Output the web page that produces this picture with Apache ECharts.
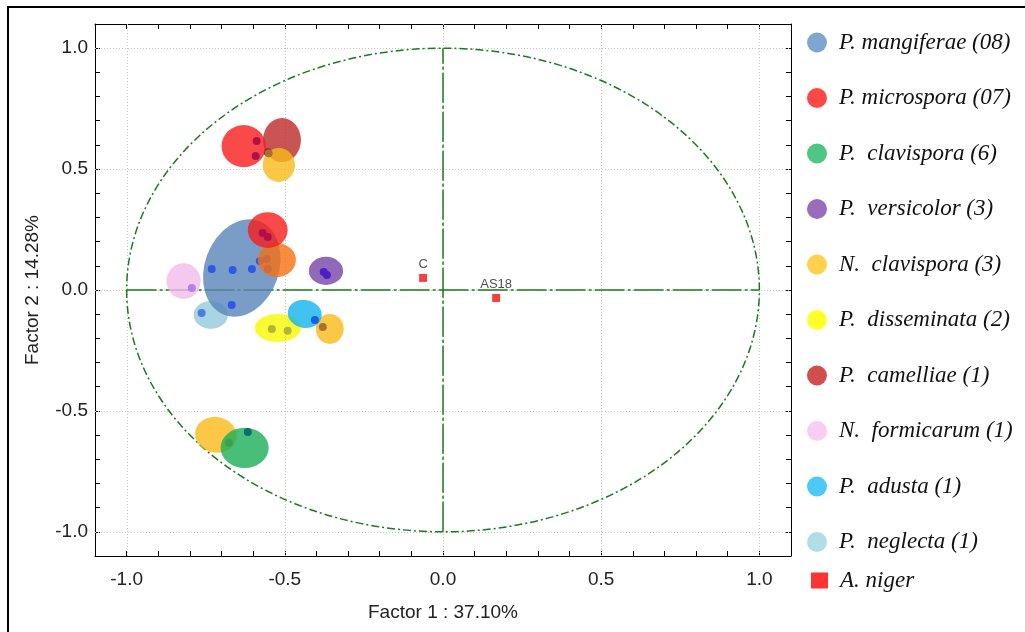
<!DOCTYPE html>
<html>
<head>
<meta charset="utf-8">
<script src="https://cdn.jsdelivr.net/npm/echarts@6/dist/echarts.min.js"></script>
<style>
html, body { margin: 0; padding: 0; background: #fff; }
#main { width: 1025px; height: 632px; }
</style>
</head>
<body>
<div id="main"></div>
<script>
// species names (legend order)
var speciesNames = ['P. mangiferae (08)', 'P. microspora (07)', 'P.  clavispora (6)', 'P.  versicolor (3)',
    'N.  clavispora (3)', 'P.  disseminata (2)', 'P.  camelliae (1)', 'N.  formicarum (1)',
    'P.  adusta (1)', 'P.  neglecta (1)', 'A. niger'];

// ellipses: [factor1, factor2, half width, half height, tilt in degrees]
var mangiferaeEll = [[-0.636, 0.091, 0.117, 0.207, 20]];
var microsporaEll = [[-0.630, 0.595, 0.070, 0.087, 0], [-0.554, 0.248, 0.063, 0.074, 0]];
var clavisporaEll = [[-0.627, -0.653, 0.076, 0.083, 0]];
var versicolorEll = [[-0.370, 0.079, 0.054, 0.058, 0]];
var nClavisporaEll = [[-0.519, 0.517, 0.051, 0.070, 0], [-0.358, -0.161, 0.044, 0.062, 0], [-0.718, -0.599, 0.066, 0.074, 10]];
var nClavisporaEll2 = [[-0.525, 0.124, 0.060, 0.070, 0]];
var disseminataEll = [[-0.522, -0.157, 0.073, 0.058, 0]];
var camelliaeEll = [[-0.509, 0.620, 0.060, 0.091, 0]];
var formicarumEll = [[-0.820, 0.037, 0.054, 0.074, 0]];
var adustaEll = [[-0.437, -0.099, 0.054, 0.058, 10]];
var neglectaEll = [[-0.734, -0.103, 0.054, 0.058, 0]];

// isolate points: [factor1, factor2]
var mangiferaePts = [[-0.731, 0.087], [-0.665, 0.083], [-0.604, 0.087], [-0.668, -0.062], [-0.579, 0.120], [-0.557, 0.128], [-0.554, 0.087]];
var microsporaPts = [[-0.589, 0.616], [-0.592, 0.554], [-0.570, 0.236], [-0.554, 0.219]];
var clavisporaPts = [[-0.617, -0.587]];
var versicolorPts = [[-0.377, 0.074], [-0.367, 0.062]];
var nClavisporaPts = [[-0.380, -0.153], [-0.677, -0.632], [-0.551, 0.566]];
var disseminataPts = [[-0.541, -0.161], [-0.491, -0.169]];
var camelliaePts = [[-0.554, 0.570]];
var formicarumPts = [[-0.794, 0.008]];
var adustaPts = [[-0.405, -0.124]];
var neglectaPts = [[-0.763, -0.095]];

// A. niger reference strains
var nigerNames = ['C', 'AS18'];
var nigerX = [-0.063, 0.168];
var nigerY = [0.050, -0.033];

// unit circle, centre lines, grid positions
var unitCircle = [[0, 0, 1, 1, 0]];
var hLine = [[-1, 0], [1, 0]];
var vLine = [[0, -1], [0, 1]];
var gridTicks = [-1, -0.5, 0, 0.5, 1];

var myChart = echarts.init(document.getElementById('main'));

function ellipsePath(rx, ry) {
    return 'M' + (-rx) + ' 0 A' + rx + ' ' + ry + ' 0 1 0 ' + rx + ' 0 A' + rx + ' ' + ry + ' 0 1 0 ' + (-rx) + ' 0 Z';
}

function ellipseRender(style) {
    return function (params, api) {
        var c = api.coord([api.value(0), api.value(1)]);
        var s = api.size([api.value(2), api.value(3)]);
        return {
            type: 'path',
            x: c[0],
            y: c[1],
            rotation: -api.value(4) * Math.PI / 180,
            shape: { pathData: ellipsePath(s[0], s[1]) },
            style: style
        };
    };
}

var zNext = 3;
function ellSeries(name, data, color) {
    return {
        name: name,
        type: 'custom',
        z: zNext++,
        data: data,
        itemStyle: { color: color },
        renderItem: ellipseRender({ fill: color, opacity: 0.8 }),
        silent: true
    };
}

function ptSeries(name, data, color) {
    return {
        name: name,
        type: 'scatter',
        z: zNext++,
        data: data,
        symbol: 'circle',
        symbolSize: 8,
        itemStyle: { color: color, opacity: 1 },
        silent: true
    };
}

function fmt(v) {
    var r = Math.round(v * 10) / 10;
    if (Math.abs(r * 2 - Math.round(r * 2)) > 1e-9) return '';
    if (r === 0) r = 0;
    return r.toFixed(1);
}

function axis(pos, main) {
    return {
        type: 'value',
        position: pos,
        min: -1.1,
        max: 1.1,
        interval: 0.1,
        axisLine: { show: true, onZero: false, lineStyle: { color: '#000', width: 1 } },
        axisTick: { show: true, inside: true, length: 5, lineStyle: { color: '#000' } },
        axisLabel: { show: main, formatter: fmt, color: '#222', fontSize: 19, fontFamily: 'Liberation Sans' },
        splitLine: { show: false }
    };
}

var xMain = axis('bottom', true);
xMain.name = 'Factor 1 : 37.10%';
xMain.nameLocation = 'middle';
xMain.nameGap = 47;
xMain.nameTextStyle = { color: '#222', fontSize: 19, fontFamily: 'Liberation Sans' };
xMain.axisLabel.margin = 14;

var yMain = axis('left', true);
yMain.name = 'Factor 2 : 14.28%';
yMain.nameLocation = 'middle';
yMain.nameGap = 53;
yMain.nameTextStyle = { color: '#222', fontSize: 19, fontFamily: 'Liberation Sans' };
yMain.axisLabel.margin = 7;

var legendColors = ['#80a6d0', '#fe4848', '#4ec880', '#9a6cbc', '#fed04c', '#ffff2a', '#d04e4e', '#f8cdf2', '#4cc9f6', '#b2dce6'];
var legendText = { fontFamily: 'Liberation Serif', fontStyle: 'italic', fontSize: 23, color: '#111', lineHeight: 20, padding: [0, 0, 0, 7] };

var greenLine = '#1b7b1b';

var option = {
    animation: false,
    backgroundColor: '#fff',
    grid: { left: 95, right: 234, top: 24, bottom: 76 },
    xAxis: [xMain, axis('top', false)],
    yAxis: [yMain, axis('right', false)],
    legend: [{
        orient: 'vertical',
        left: 807,
        top: 31,
        padding: 0,
        itemWidth: 20,
        itemHeight: 20,
        itemGap: 32.5,
        icon: 'circle',
        selectedMode: false,
        data: speciesNames.slice(0, 10).map(function (n, i) {
            return { name: n, itemStyle: { color: legendColors[i] } };
        }),
        textStyle: legendText
    }, {
        orient: 'vertical',
        left: 811,
        top: 569,
        padding: 0,
        itemWidth: 17,
        itemHeight: 16,
        icon: 'rect',
        selectedMode: false,
        data: [{ name: speciesNames[10], itemStyle: { color: '#ff0000' } }],
        textStyle: legendText
    }],
    graphic: [{
        type: 'rect',
        shape: { x: 8, y: 7, width: 1100, height: 700 },
        style: { fill: 'none', stroke: '#000', lineWidth: 2 },
        silent: true
    }],
    series: [
        {
            name: 'grid', type: 'custom', z: 1, silent: true,
            data: gridTicks.map(function (v) { return [v, v]; }),
            renderItem: function (params, api) {
                var v = api.value(0);
                var a = api.coord([v, -1.1]), b = api.coord([v, 1.1]);
                var c = api.coord([-1.1, v]), d = api.coord([1.1, v]);
                var gx = Math.round(a[0]) + 0.5, gy = Math.round(c[1]) + 0.5;
                var st = { stroke: '#c4c4c4', lineWidth: 1, lineDash: [1, 2] };
                return {
                    type: 'group',
                    children: [
                        { type: 'line', shape: { x1: gx, y1: a[1], x2: gx, y2: b[1] }, style: st },
                        { type: 'line', shape: { x1: c[0], y1: gy, x2: d[0], y2: gy }, style: st }
                    ]
                };
            }
        },
        {
            name: 'circle', type: 'custom', z: 2, data: unitCircle, silent: true,
            renderItem: ellipseRender({ fill: 'none', stroke: greenLine, lineWidth: 1.5, lineDash: [8, 3, 2, 3] })
        },
        {
            name: 'h', type: 'line', z: 2, data: hLine, symbol: 'none', silent: true,
            lineStyle: { color: greenLine, width: 1.5, type: [30, 3, 3, 3] }
        },
        {
            name: 'v', type: 'line', z: 2, data: vLine, symbol: 'none', silent: true,
            lineStyle: { color: greenLine, width: 1.5, type: [30, 3, 3, 3] }
        },
        ellSeries(speciesNames[9], neglectaEll, '#95c9d9'),
        ptSeries(speciesNames[9], neglectaPts, '#4a7ee0'),
        ellSeries(speciesNames[7], formicarumEll, '#f3baec'),
        ptSeries(speciesNames[7], formicarumPts, '#b482e0'),
        ellSeries(speciesNames[0], mangiferaeEll, '#5985ba'),
        ptSeries(speciesNames[0], mangiferaePts, '#2b5be6'),
        ellSeries(speciesNames[6], camelliaeEll, '#ba2929'),
        ptSeries(speciesNames[6], camelliaePts, '#8a1030'),
        ellSeries(speciesNames[4], nClavisporaEll, '#f9ba18'),
        ellSeries(speciesNames[4], nClavisporaEll2, '#f66f12'),
        ptSeries(speciesNames[4], nClavisporaPts, '#a87034'),
        ellSeries(speciesNames[1], microsporaEll, '#f81c1c'),
        ptSeries(speciesNames[1], microsporaPts, '#b0104a'),
        ellSeries(speciesNames[2], clavisporaEll, '#1aae56'),
        ptSeries(speciesNames[2], clavisporaPts, '#0b6c72'),
        ellSeries(speciesNames[3], versicolorEll, '#7544a8'),
        ptSeries(speciesNames[3], versicolorPts, '#4b1fc8'),
        ellSeries(speciesNames[5], disseminataEll, '#f9f900'),
        ptSeries(speciesNames[5], disseminataPts, '#b4b43a'),
        ellSeries(speciesNames[8], adustaEll, '#12b4ec'),
        ptSeries(speciesNames[8], adustaPts, '#1560e6'),
        {
            name: speciesNames[10],
            type: 'scatter',
            z: zNext++,
            symbol: 'rect',
            symbolSize: 8,
            silent: true,
            itemStyle: { color: '#ee1111' },
            data: nigerNames.map(function (n, i) { return { name: n, value: [nigerX[i], nigerY[i]] }; }),
            label: {
                show: true, position: 'top', distance: 3, formatter: '{b}',
                color: '#222', fontSize: 13, fontFamily: 'Liberation Sans'
            }
        }
    ]
};

myChart.setOption(option);
</script>
</body>
</html>
